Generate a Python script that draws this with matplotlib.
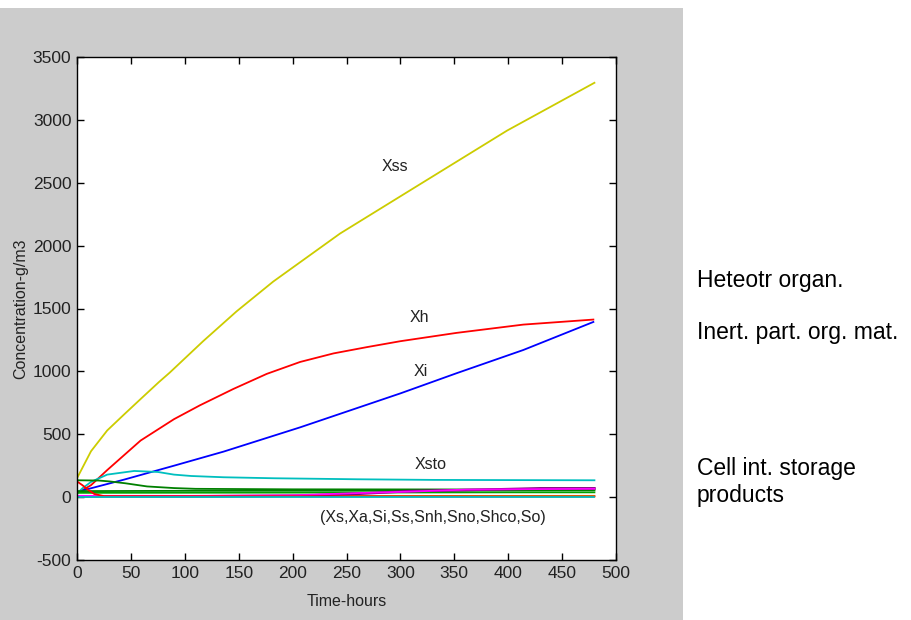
import matplotlib
matplotlib.use("Agg")
import matplotlib.pyplot as plt

plt.rcParams["axes.unicode_minus"] = False

# ---- data ----
t_xss = [0, 13, 28, 44, 59, 76, 86, 117, 148, 182, 244, 310, 399, 480]
xss = [150, 365, 530, 660, 780, 915, 990, 1240, 1477, 1714, 2096, 2445, 2915, 3295]

t_xh = [0, 5, 13, 28, 59, 90, 114, 145, 176, 207, 238, 269, 300, 352, 414, 479]
xh = [35, 55, 95, 215, 450, 620, 730, 860, 980, 1075, 1143, 1193, 1240, 1306, 1372, 1412]

t_xi = [0, 3, 44, 90, 136, 207, 269, 300, 352, 414, 479]
xi = [40, 48, 140, 250, 362, 555, 735, 825, 985, 1170, 1393]

t_xsto = [0, 5, 13, 28, 53, 75, 90, 106, 136, 183, 260, 330, 480]
xsto = [29, 70, 121, 179, 208, 200, 179, 168, 158, 150, 142, 137, 134]

t_xs = [0, 20, 30, 45, 65, 90, 110, 200, 480]
xs = [134, 132, 125, 110, 85, 72, 66, 62, 60]

t_xa = [0, 100, 200, 300, 400, 480]
xa = [48, 50, 51, 52, 53, 54]

t_so = [0, 100, 200, 300, 400, 480]
so = [34, 35, 36, 37, 38, 38]

t_si = [0, 480]
si = [2, 2]

t_ss = [0, 5, 10, 16, 25, 480]
ss = [125, 95, 60, 25, 8, 5]

t_snh = [0, 105, 200, 259, 309, 361, 430, 480]
snh = [10, 10, 14, 32, 44, 60, 64, 66]

t_sno = [0, 105, 210, 260, 309, 361, 430, 480]
sno = [6, 6, 12, 26, 48, 56, 70, 70]

t_shco = [0, 480]
shco = [8, 10]

curve_labels = ["Xss", "Xh", "Xi", "Xsto", "(Xs,Xa,Si,Ss,Snh,Sno,Shco,So)"]
label_pos_t = [295, 318, 319, 328, 330]
label_pos_y = [2630, 1430, 1000, 260, -160]

side_notes = ["Heteotr organ.", "Inert. part. org. mat.", "Cell int. storage\nproducts"]

xticks = [0, 50, 100, 150, 200, 250, 300, 350, 400, 450, 500]
yticks = [-500, 0, 500, 1000, 1500, 2000, 2500, 3000, 3500]

# ---- figure ----
W, H = 911, 620
fig = plt.figure(figsize=(W / 100, H / 100), dpi=100)
fig.patch.set_facecolor("white")

panel = fig.add_axes([0, 0, 683 / W, (620 - 8) / H])
panel.set_facecolor("#cccccc")
panel.set_xticks([]); panel.set_yticks([])
for s in panel.spines.values():
    s.set_visible(False)

ax = fig.add_axes([77 / W, (620 - 560) / H, (616 - 77) / W, (560 - 57) / H])
ax.set_facecolor("white")

tickfont = ["Liberation Sans Narrow", "Liberation Sans", "DejaVu Sans"]
lw = 1.3

ax.plot(t_xss, xss, color="#cccc00", lw=lw)
ax.plot(t_xh, xh, color="#ff0000", lw=lw)
ax.plot(t_xi, xi, color="#0000ff", lw=lw)
ax.plot(t_xsto, xsto, color="#00bfbf", lw=lw)
ax.plot(t_xs, xs, color="#008000", lw=lw)
ax.plot(t_xa, xa, color="#008000", lw=lw)
ax.plot(t_so, so, color="#00a000", lw=lw)
ax.plot(t_shco, shco, color="#c8a000", lw=lw)
ax.plot(t_sno, sno, color="#800080", lw=1.8)
ax.plot(t_snh, snh, color="#ff00ff", lw=lw)
ax.plot(t_ss, ss, color="#ff0000", lw=lw)
ax.plot(t_si, si, color="#00bfbf", lw=lw)

for lab, lt, ly in zip(curve_labels, label_pos_t, label_pos_y):
    ax.text(lt, ly, lab, ha="center", va="center", fontsize=11.5,
            family=tickfont, color="#222222")

ax.set_xlim(0, 500)
ax.set_ylim(-500, 3500)
ax.set_xticks(xticks)
ax.set_yticks(yticks)
ax.tick_params(direction="in", length=5, width=1, top=True, right=True,
               labelsize=12.5, pad=4, colors="black")
for lbl in ax.get_xticklabels() + ax.get_yticklabels():
    lbl.set_family(tickfont)
    lbl.set_color("#222222")
for s in ax.spines.values():
    s.set_linewidth(1.0)

ax.set_xlabel("Time-hours", fontsize=11.5, family=tickfont, color="#222222", labelpad=10)
ax.set_ylabel("Concentration-g/m3", fontsize=11.5, family=tickfont, color="#222222", labelpad=3)

side_y = [280, 332, 482]
for txt, py in zip(side_notes, side_y):
    fig.text(697 / W, 1 - py / H, txt, ha="left", va="center", fontsize=16.5,
             family=["Liberation Sans", "DejaVu Sans"], color="black", linespacing=1.25)

fig.savefig("out.png", dpi=100)
